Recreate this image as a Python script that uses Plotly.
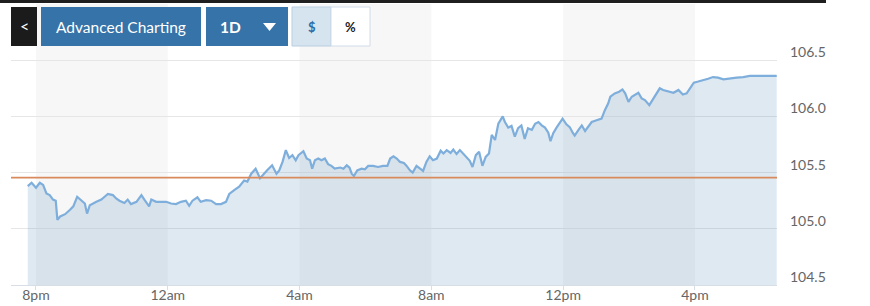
import plotly.graph_objects as go
import pandas as pd

# ---------------- data ----------------
times = [
    "19:45", "19:52", "20:00", "20:07", "20:13", "20:19", "20:25", "20:31", "20:36", "20:39",
    "20:44", "20:53", "21:02", "21:08", "21:15", "21:23", "21:29", "21:33", "21:38", "21:50",
    "21:59", "22:05", "22:11", "22:20", "22:26", "22:32", "22:41", "22:47", "22:53", "23:03",
    "23:12", "23:18", "23:26", "23:30", "23:39", "23:48", "23:57", "00:06", "00:15", "00:24",
    "00:33", "00:39", "00:45", "00:54", "01:00", "01:10", "01:19", "01:28", "01:37", "01:46",
    "01:52", "02:01", "02:10", "02:19", "02:25", "02:32", "02:40", "02:48", "02:55", "03:01",
    "03:10", "03:18", "03:23", "03:29", "03:35", "03:41", "03:47", "03:53", "03:58", "04:07",
    "04:13", "04:19", "04:23", "04:28", "04:34", "04:40", "04:46", "04:52", "04:58", "05:04",
    "05:14", "05:20", "05:26", "05:31", "05:35", "05:39", "05:45", "05:53", "05:59", "06:05",
    "06:14", "06:23", "06:32", "06:40", "06:45", "06:51", "06:57", "07:03", "07:10", "07:15",
    "07:21", "07:26", "07:33", "07:39", "07:45", "07:51", "07:57", "08:03", "08:10", "08:17",
    "08:22", "08:28", "08:35", "08:40", "08:46", "08:52", "08:58", "09:04", "09:10", "09:15",
    "09:21", "09:27", "09:33", "09:39", "09:45", "09:50", "09:56", "10:02", "10:10", "10:14",
    "10:20", "10:26", "10:32", "10:38", "10:44", "10:50", "10:56", "11:03", "11:09", "11:15",
    "11:21", "11:27", "11:33", "11:37", "11:42", "11:48", "11:59", "12:06", "12:12", "12:18",
    "12:21", "12:28", "12:34", "12:40", "12:46", "12:52", "13:01", "13:10", "13:16", "13:22",
    "13:26", "13:34", "13:42", "13:48", "13:53", "13:59", "14:05", "14:11", "14:17", "14:23",
    "14:29", "14:37", "14:41", "14:47", "14:56", "15:02", "15:11", "15:21", "15:30", "15:38",
    "15:45", "15:51", "15:58", "16:06", "16:15", "16:24", "16:33", "16:42", "16:52", "17:04",
    "17:16", "17:28", "17:40", "17:52", "18:04", "18:17", "18:29",
]
values = [
    105.38, 105.41, 105.365, 105.41, 105.39, 105.315, 105.30, 105.26, 105.25, 105.08,
    105.11, 105.13, 105.17, 105.20, 105.285, 105.25, 105.225, 105.135, 105.21, 105.24,
    105.26, 105.285, 105.31, 105.30, 105.27, 105.25, 105.23, 105.26, 105.22, 105.24,
    105.30, 105.255, 105.20, 105.26, 105.24, 105.24, 105.24, 105.225, 105.22, 105.24,
    105.25, 105.205, 105.25, 105.28, 105.24, 105.255, 105.25, 105.22, 105.22, 105.24,
    105.31, 105.345, 105.375, 105.43, 105.42, 105.49, 105.535, 105.45, 105.49, 105.52,
    105.565, 105.49, 105.52, 105.595, 105.70, 105.63, 105.655, 105.61, 105.655, 105.69,
    105.625, 105.61, 105.535, 105.61, 105.625, 105.61, 105.625, 105.575, 105.56, 105.535,
    105.545, 105.535, 105.565, 105.545, 105.49, 105.47, 105.52, 105.535, 105.53, 105.56,
    105.56, 105.55, 105.56, 105.56, 105.625, 105.645, 105.625, 105.595, 105.585, 105.56,
    105.52, 105.50, 105.56, 105.535, 105.515, 105.595, 105.645, 105.61, 105.625, 105.695,
    105.67, 105.70, 105.675, 105.705, 105.665, 105.70, 105.67, 105.64, 105.605, 105.55,
    105.655, 105.685, 105.56, 105.64, 105.67, 105.835, 105.79, 105.935, 106.00, 105.95,
    105.90, 105.915, 105.82, 105.895, 105.92, 105.80, 105.895, 105.88, 105.935, 105.95,
    105.92, 105.90, 105.855, 105.78, 105.85, 105.90, 105.98, 105.93, 105.905, 105.85,
    105.83, 105.88, 105.92, 105.87, 105.915, 105.95, 105.965, 105.98, 106.055, 106.115,
    106.175, 106.205, 106.22, 106.24, 106.205, 106.13, 106.175, 106.19, 106.21, 106.16,
    106.145, 106.10, 106.13, 106.18, 106.25, 106.235, 106.22, 106.21, 106.235, 106.195,
    106.205, 106.25, 106.30, 106.31, 106.32, 106.335, 106.35, 106.345, 106.33, 106.34,
    106.345, 106.35, 106.36, 106.36, 106.36, 106.36, 106.36,
]
prev_close = 105.455

x_tick_times = ["20:00", "00:00", "04:00", "08:00", "12:00", "16:00"]
x_tick_labels = ["8pm", "12am", "4am", "8am", "12pm", "4pm"]
y_tick_values = [104.5, 105.0, 105.5, 106.0, 106.5]
y_tick_labels = ["104.5", "105.0", "105.5", "106.0", "106.5"]
band_ranges = [("20:00", "00:00"), ("04:00", "08:00"), ("12:00", "16:00")]
x_range = ("19:14:30", "18:29:30")
y_range = [104.5, 107.0]

DAY1, DAY2 = "2024-03-04", "2024-03-05"


def to_dt(hm):
    h = int(hm[:2])
    day = DAY1 if h >= 19 else DAY2
    return pd.Timestamp(f"{day} {hm}")


xs = [to_dt(t) for t in times]

# ---------------- layout geometry ----------------
W, H = 870, 306
ML, MR, MT, MB = 11, 93, 4, 21
PW, PH = W - ML - MR, H - MT - MB


def px(x):
    return (x - ML) / PW


def py(y):
    return (H - MB - y) / PH


FONT = "Lato, 'Open Sans', sans-serif"

fig = go.Figure()
fig.add_trace(go.Scatter(
    x=xs, y=values, mode="lines",
    line=dict(color="#7eaedb", width=2.2),
    fill="tozeroy", fillcolor="rgba(110,155,195,0.22)",
    hoverinfo="skip", showlegend=False,
))

shapes = []
for a, b in band_ranges:
    shapes.append(dict(type="rect", xref="x", yref="paper",
                       x0=to_dt(a), x1=to_dt(b), y0=0, y1=1,
                       fillcolor="#f7f7f7", line=dict(width=0), layer="below"))

# dark strip at top
shapes.append(dict(type="rect", xref="paper", yref="paper",
                   x0=px(0), x1=px(826), y0=py(3), y1=py(0),
                   fillcolor="#1f1f1f", line=dict(width=0), layer="above"))

# buttons
buttons = [
    (11, 37, "#1b1b1b", None),
    (41, 201, "#3573a8", None),
    (206, 288, "#3573a8", None),
    (292, 331, "#d6e4f0", "#b9cde0"),
    (331, 370, "#ffffff", "#cfdce8"),
]
for x0, x1, fc, lc in buttons:
    shapes.append(dict(type="rect", xref="paper", yref="paper",
                       x0=px(x0), x1=px(x1), y0=py(46), y1=py(7),
                       fillcolor=fc,
                       line=dict(width=1 if lc else 0, color=lc or fc),
                       layer="above"))
# dropdown triangle
tri = f"M {px(263)} {py(23)} L {px(276)} {py(23)} L {px(269.5)} {py(31)} Z"
shapes.append(dict(type="path", xref="paper", yref="paper", path=tri,
                   fillcolor="#ffffff", line=dict(width=0), layer="above"))

annotations = [
    dict(text="<", x=px(24), y=py(26), font=dict(color="white", size=16, family=FONT)),
    dict(text="Advanced Charting", x=px(121), y=py(26.5), font=dict(color="white", size=15.5, family=FONT)),
    dict(text="<b>1D</b>", x=px(230), y=py(26.5), font=dict(color="white", size=15.5, family=FONT)),
    dict(text="<b>$</b>", x=px(312), y=py(26.5), font=dict(color="#2e6da4", size=13, family=FONT)),
    dict(text="<b>%</b>", x=px(350.5), y=py(26.5), font=dict(color="#222222", size=13, family=FONT)),
]
for a in annotations:
    a.update(xref="paper", yref="paper", showarrow=False, xanchor="center", yanchor="middle")

fig.add_hline(y=prev_close, line=dict(color="#d98a5c", width=1.6), layer="above")

fig.update_layout(
    width=W, height=H,
    margin=dict(l=ML, r=MR, t=MT, b=MB, pad=0, autoexpand=False),
    paper_bgcolor="white", plot_bgcolor="white",
    shapes=list(fig.layout.shapes) + shapes,
    annotations=annotations,
    showlegend=False,
    xaxis=dict(
        automargin=False,
        range=[to_dt(x_range[0]), to_dt(x_range[1])],
        tickvals=[to_dt(t) for t in x_tick_times], ticktext=x_tick_labels,
        showgrid=False, zeroline=False,
        showline=True, linecolor="#d8dee6", linewidth=1,
        ticks="outside", ticklen=4, tickcolor="#d8dee6",
        tickfont=dict(family=FONT, size=14, color="#666666"),
        ticklabelstandoff=-7,
    ),
    yaxis=dict(
        automargin=False,
        range=y_range, side="right",
        tickvals=y_tick_values, ticktext=y_tick_labels,
        showgrid=True, gridcolor="#e6e6e6", gridwidth=1,
        zeroline=False, showline=False, ticks="",
        tickfont=dict(family=FONT, size=14, color="#666666"),
        ticklabelstandoff=12, ticklabelshift=-8,
    ),
)

fig.write_html("out.html")
